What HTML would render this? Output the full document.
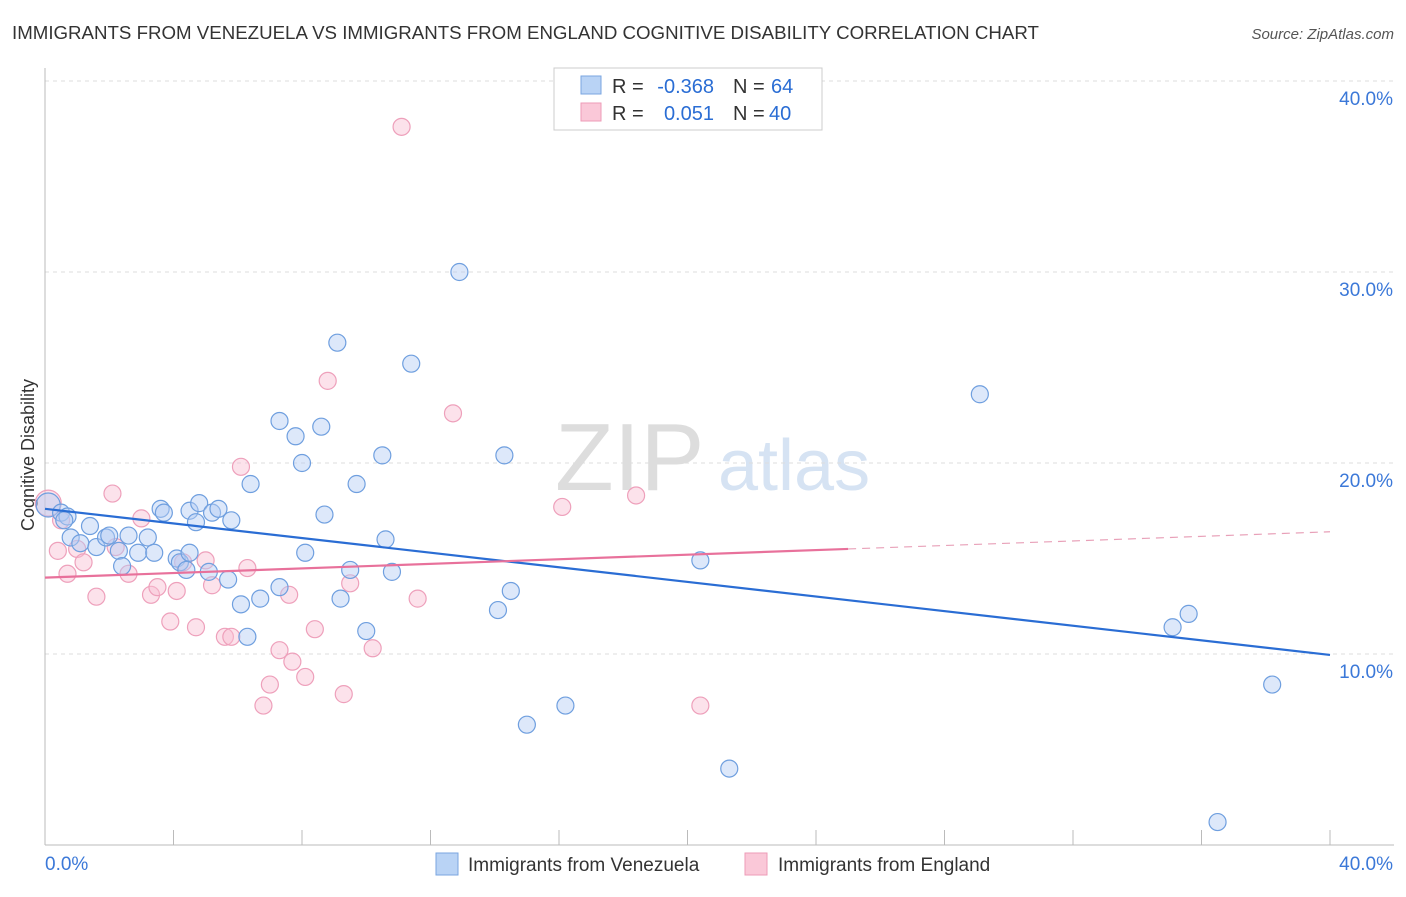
<!DOCTYPE html>
<html><head><meta charset="utf-8"><style>
body{margin:0;background:#fff;font-family:"Liberation Sans",sans-serif;}
svg text{font-family:"Liberation Sans",sans-serif;}
</style></head><body>
<svg id="chart" width="1406" height="892">
<text x="12" y="39" font-size="18.7" fill="#333">IMMIGRANTS FROM VENEZUELA VS IMMIGRANTS FROM ENGLAND COGNITIVE DISABILITY CORRELATION CHART</text>
<text x="1394" y="39" font-size="15" fill="#555" font-style="italic" text-anchor="end">Source: ZipAtlas.com</text>
<text x="555" y="490" font-size="96" fill="#ddd" font-family="Liberation Serif">ZIP</text>
<text x="718" y="490" font-size="72" fill="#d6e3f3">atlas</text>
<text transform="translate(34,455) rotate(-90)" font-size="18" fill="#333" text-anchor="middle">Cognitive Disability</text>
<g id="grid"></g><g id="marks"></g>
<g>
<rect x="554" y="68" width="268" height="62" fill="#fff" stroke="#ccc"/>
<rect x="581" y="76" width="20" height="18" fill="#b9d3f5" stroke="#7aa6e0"/>
<rect x="581" y="103" width="20" height="18" fill="#fac8d8" stroke="#ee9bb7"/>
<text x="612" y="93" font-size="20" fill="#333">R =</text>
<text x="714" y="93" font-size="20" fill="#2a6dd4" text-anchor="end">-0.368</text>
<text x="733" y="93" font-size="20" fill="#333">N =</text>
<text x="771" y="93" font-size="20" fill="#2a6dd4">64</text>
<text x="612" y="120" font-size="20" fill="#333">R =</text>
<text x="714" y="120" font-size="20" fill="#2a6dd4" text-anchor="end">0.051</text>
<text x="733" y="120" font-size="20" fill="#333">N =</text>
<text x="769" y="120" font-size="20" fill="#2a6dd4">40</text>
</g>
<g>
<rect x="436" y="853" width="22" height="22" fill="#b9d3f5" stroke="#7aa6e0"/>
<text x="468" y="871" font-size="19" fill="#333">Immigrants from Venezuela</text>
<rect x="745" y="853" width="22" height="22" fill="#fac8d8" stroke="#ee9bb7"/>
<text x="778" y="871" font-size="19" fill="#333">Immigrants from England</text>
</g>
</svg>
<script>
const yTicks=[10,20,30,40];
const xTickLabels=["0.0%","40.0%"];
const blueX=[0.1,0.5,0.7,0.8,1.1,1.4,1.6,1.9,2.0,2.3,2.4,2.6,2.9,3.2,3.4,3.6,3.7,4.1,4.2,4.4,4.5,4.7,4.8,5.1,5.2,5.4,5.7,5.8,6.1,6.3,6.4,6.7,7.3,7.3,7.8,8.0,8.1,8.6,8.7,9.1,9.2,9.5,9.7,10.0,10.5,10.6,10.8,11.4,12.9,14.1,14.3,14.5,15.0,16.2,20.4,21.3,29.1,35.1,35.6,38.2,36.5,0.6,4.5];
const blueY=[17.8,17.4,17.2,16.1,15.8,16.7,15.6,16.1,16.2,15.4,14.6,16.2,15.3,16.1,15.3,17.6,17.4,15.0,14.8,14.4,17.5,16.9,17.9,14.3,17.4,17.6,13.9,17.0,12.6,10.9,18.9,12.9,13.5,22.2,21.4,20.0,15.3,21.9,17.3,26.3,12.9,14.4,18.9,11.2,20.4,16.0,14.3,25.2,30.0,12.3,20.4,13.3,6.3,7.3,14.9,4.0,23.6,11.4,12.1,8.4,1.2,17.0,15.3];
const pinkX=[0.1,0.4,0.7,1.0,1.2,1.6,2.1,2.2,2.6,3.0,3.3,3.5,3.9,4.1,4.3,4.7,5.0,5.2,5.6,5.8,6.1,6.3,6.8,7.0,7.3,7.6,7.7,8.1,8.4,8.8,9.3,9.5,10.2,11.1,11.6,12.7,16.1,18.4,20.4,0.5];
const pinkY=[17.9,15.4,14.2,15.5,14.8,13.0,18.4,15.6,14.2,17.1,13.1,13.5,11.7,13.3,14.8,11.4,14.9,13.6,10.9,10.9,19.8,14.5,7.3,8.4,10.2,13.1,9.6,8.8,11.3,24.3,7.9,13.7,10.3,37.6,12.9,22.6,17.7,18.3,7.3,17.0];
const blueLine=[[0,17.6],[40,9.95]];
const pinkLine=[[0,14.0],[25,15.5]];
const pinkDash=[[25,15.5],[40,16.4]];
const NS="http://www.w3.org/2000/svg";
const X=v=>45+v*32.125, Y=v=>845-v*19.1;
const grid=document.getElementById('grid'), marks=document.getElementById('marks');
function mk(t,a,p){const e=document.createElementNS(NS,t);for(const k in a)e.setAttribute(k,a[k]);p.appendChild(e);return e;}
yTicks.forEach(t=>{
 const l=mk('line',{x1:45,x2:1394,y1:Y(t),y2:Y(t),stroke:'#ddd','stroke-dasharray':'4,4'},grid);
 
 
 const tx=mk('text',{x:1393,y:Y(t)+24,'font-size':19,fill:'#3b78d8','text-anchor':'end'},grid);tx.textContent=t.toFixed(1)+'%';
 
 
});
mk('line',{x1:45,x2:45,y1:68,y2:845,stroke:'#bbb'},grid);
mk('line',{x1:45,x2:1394,y1:845,y2:845,stroke:'#bbb'},grid);
for(let i=0;i<=10;i++){const t=mk('line',{x1:X(i*4),x2:X(i*4),y1:830,y2:845,stroke:'#bbb'},grid);
 
 }
xTickLabels.forEach((s,i)=>{const t=mk('text',{x:i?1393:45,y:870,'font-size':19,fill:'#3b78d8','text-anchor':i?'end':'start'},grid);t.textContent=s;
 
 });
pinkX.forEach((x,i)=>{const c=mk('circle',{cx:X(x),cy:Y(pinkY[i]),r:i==0?13:8.5,fill:'rgba(248,190,210,0.45)',stroke:'#eea0bb','stroke-width':1.2},marks);
 
 });
blueX.forEach((x,i)=>{const c=mk('circle',{cx:X(x),cy:Y(blueY[i]),r:i==0?12:8.5,fill:'rgba(180,205,245,0.45)',stroke:'#6f9fdf','stroke-width':1.2},marks);
 
 });
const bl=mk('line',{x1:X(blueLine[0][0]),y1:Y(blueLine[0][1]),x2:X(blueLine[1][0]),y2:Y(blueLine[1][1]),stroke:'#2a6dd4','stroke-width':2.2},marks);


const pl=mk('line',{x1:X(pinkLine[0][0]),y1:Y(pinkLine[0][1]),x2:X(pinkLine[1][0]),y2:Y(pinkLine[1][1]),stroke:'#e8719b','stroke-width':2.2},marks);


const pd=mk('line',{x1:X(pinkDash[0][0]),y1:Y(pinkDash[0][1]),x2:X(pinkDash[1][0]),y2:Y(pinkDash[1][1]),stroke:'#e8a0b8','stroke-width':1.2,'stroke-dasharray':'8,6'},marks);


</script>
</body></html>
